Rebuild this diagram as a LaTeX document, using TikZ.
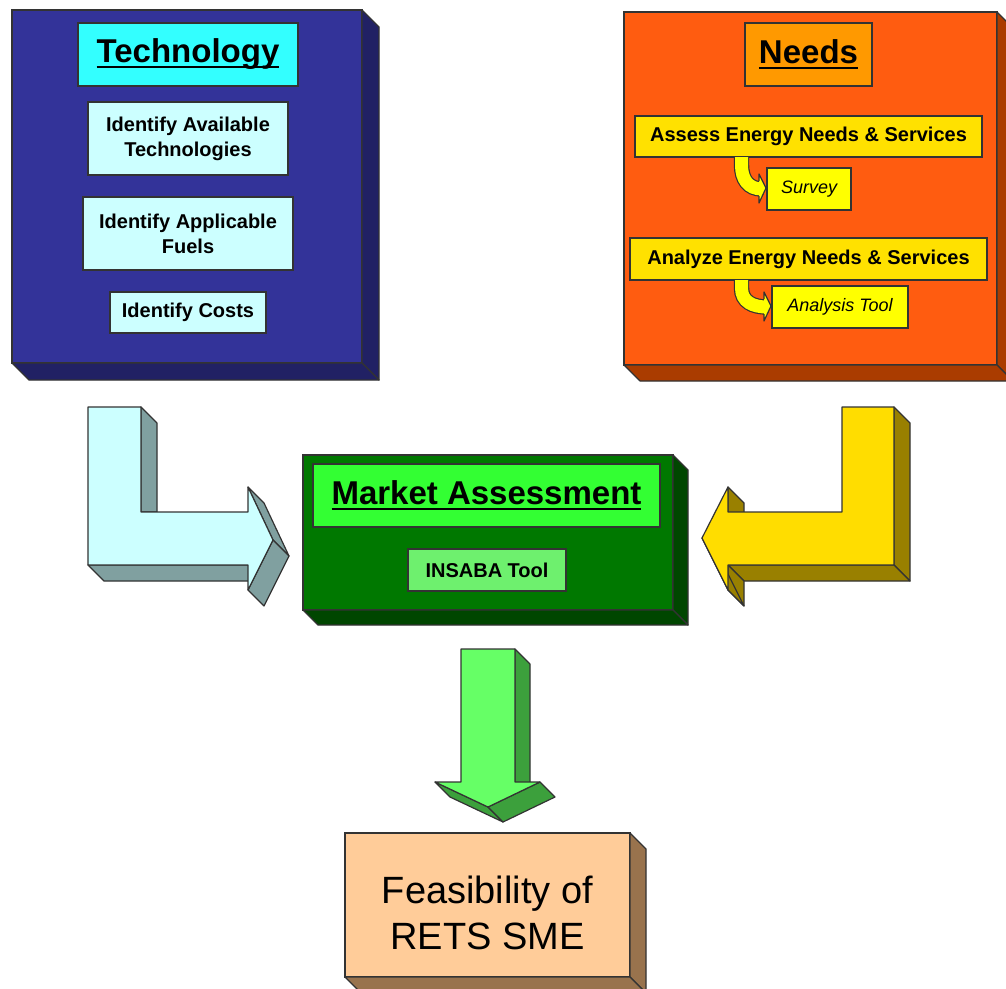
\documentclass[tikz,border=0pt]{standalone}
\usepackage{fontspec}
\setmainfont{Liberation Sans}
\newcommand{\ulbox}[1]{\setbox0\hbox{#1}\rlap{\rule[-5.5pt]{\wd0}{2.6pt}}\box0}
\definecolor{techblue}{RGB}{51,51,153}
\definecolor{techside}{RGB}{33,33,100}
\definecolor{techcyan}{RGB}{51,255,255}
\definecolor{paleblue}{RGB}{204,255,255}
\definecolor{cyanside}{RGB}{128,160,160}
\definecolor{needsred}{RGB}{255,92,16}
\definecolor{needsside}{RGB}{170,60,0}
\definecolor{needsorange}{RGB}{255,153,0}
\definecolor{taskyellow}{RGB}{255,225,0}
\definecolor{survyellow}{RGB}{255,255,0}
\definecolor{gold}{RGB}{255,221,0}
\definecolor{goldside}{RGB}{153,128,0}
\definecolor{marketgreen}{RGB}{0,120,0}
\definecolor{marketside}{RGB}{0,70,0}
\definecolor{brightgreen}{RGB}{51,255,51}
\definecolor{toolgreen}{RGB}{110,240,110}
\definecolor{arrowgreen}{RGB}{102,255,102}
\definecolor{greenside}{RGB}{60,160,60}
\definecolor{peach}{RGB}{255,204,153}
\definecolor{feasside}{RGB}{153,115,77}

\begin{document}
\begin{tikzpicture}[x=1pt,y=-1pt,
slab/.style={draw=black!80,line width=1.2pt,inner sep=0pt,outer sep=0pt,align=center},
size/.style 2 args={minimum width=#1pt,minimum height=#2pt},
side/.style={draw=black!80,line width=1.2pt,line join=round},
head/.style={slab,font=\fontsize{33}{40}\selectfont\bfseries},
task/.style={slab,font=\fontsize{20}{25}\selectfont\bfseries},
aid/.style={slab,fill=survyellow,font=\fontsize{18}{22}\selectfont\itshape},
curlarrow/.style={draw=black!80,double=survyellow,double distance=13pt,line width=1.2pt}]

\fill[white,use as bounding box](0,0)rectangle(1006,988);

\node[slab,size={350}{353},fill=techblue](tech) at (187,186.5){};
\node[head,size={220}{63},fill=techcyan](techtitle) at (188,54.5){\ulbox{Technology}};
\node[task,size={200}{73},fill=paleblue](avail) at (188,138.5){Identify Available\\Technologies};
\node[task,size={210}{73},fill=paleblue](fuels) at (188,233.5){Identify Applicable\\Fuels};
\node[task,size={156}{41},fill=paleblue](costs) at (188,312.5){Identify Costs};

\node[slab,size={373}{353},fill=needsred](needs) at (810.5,188.5){};
\node[head,size={127}{63},fill=needsorange](needstitle) at (808.5,54.5){\ulbox{Needs}};
\node[task,size={347}{41},fill=taskyellow](assess) at (808.5,136.5){Assess Energy Needs \& Services};
\node[aid,size={84}{42}](survey) at (809,189){Survey};
\node[task,size={357}{42},fill=taskyellow](analyze) at (808.5,259){Analyze Energy Needs \& Services};
\node[aid,size={136}{42}](anltool) at (840,307){Analysis Tool};

\node[slab,size={370}{155},fill=marketgreen](market) at (488,532.5){};
\node[head,size={347}{63},fill=brightgreen](markettitle) at (486.5,495.5){\ulbox{Market Assessment}};
\node[task,size={158}{42},fill=toolgreen](insaba) at (487,570){INSABA Tool};

\node[slab,size={285}{144},fill=peach,font=\fontsize{38}{46}\selectfont](feas) at (487.5,905){\rule{0pt}{44pt}Feasibility of\\RETS SME};

\foreach \n/\c/\d in {tech/techside/17,needs/needsside/16,market/marketside/15,feas/feasside/16}{
\draw[side,fill=\c](\n.north east)--++(\d,\d)--([shift={(\d,\d)}]\n.south east)--(\n.south east)--cycle;
\draw[side,fill=\c](\n.south west)--([shift={(\d,\d)}]\n.south west)--([shift={(\d,\d)}]\n.south east)--(\n.south east)--cycle;
}

\foreach \a/\b in {assess/survey,analyze/anltool}{
\draw[curlarrow]([shift={(-67,0)}]\a.south)--++(0,8) .. controls +(0,14) and +(-14,0) .. ([shift={(-5,0)}]\b.west);
\filldraw[side,fill=survyellow]([shift={(-8,-8)}]\b.west)--([shift={(-8,-15)}]\b.west)--([shift={(-1,-1)}]\b.west)--([shift={(-8,14)}]\b.west)--([shift={(-8,7)}]\b.west);
}

\draw[side,fill=cyanside](141,407)--(157,423)--(157,512)--(141,512)--cycle;
\draw[side,fill=cyanside](88,565)--(104,581)--(264,581)--(248,565)--cycle;
\draw[side,fill=cyanside](248,487)--(264,503)--(289,556)--(273,540)--cycle;
\draw[side,fill=cyanside](273,540)--(289,556)--(264,606)--(248,590)--cycle;
\draw[side,fill=paleblue](88,407)--(141,407)--(141,512)--(248,512)--(248,487)--(273,540)--(248,590)--(248,565)--(88,565)--cycle;

\draw[side,fill=goldside](894,407)--(910,423)--(910,581)--(894,565)--cycle;
\draw[side,fill=goldside](728,565)--(744,581)--(910,581)--(894,565)--cycle;
\draw[side,fill=goldside](728,487)--(744,503)--(744,528)--(728,512)--cycle;
\draw[side,fill=goldside](728,565)--(744,581)--(744,606)--(728,590)--cycle;
\draw[side,fill=goldside](702,538)--(718,554)--(744,606)--(728,590)--cycle;
\draw[side,fill=gold](842,407)--(894,407)--(894,565)--(728,565)--(728,590)--(702,538)--(728,487)--(728,512)--(842,512)--cycle;

\draw[side,fill=greenside](515,649)--(530,664)--(530,797)--(515,782)--cycle;
\draw[side,fill=greenside](435,782)--(450,797)--(503,822)--(488,807)--cycle;
\draw[side,fill=greenside](540,782)--(555,797)--(503,822)--(488,807)--cycle;
\draw[side,fill=arrowgreen](461,649)--(515,649)--(515,782)--(540,782)--(488,807)--(435,782)--(461,782)--cycle;

\end{tikzpicture}
\end{document}
